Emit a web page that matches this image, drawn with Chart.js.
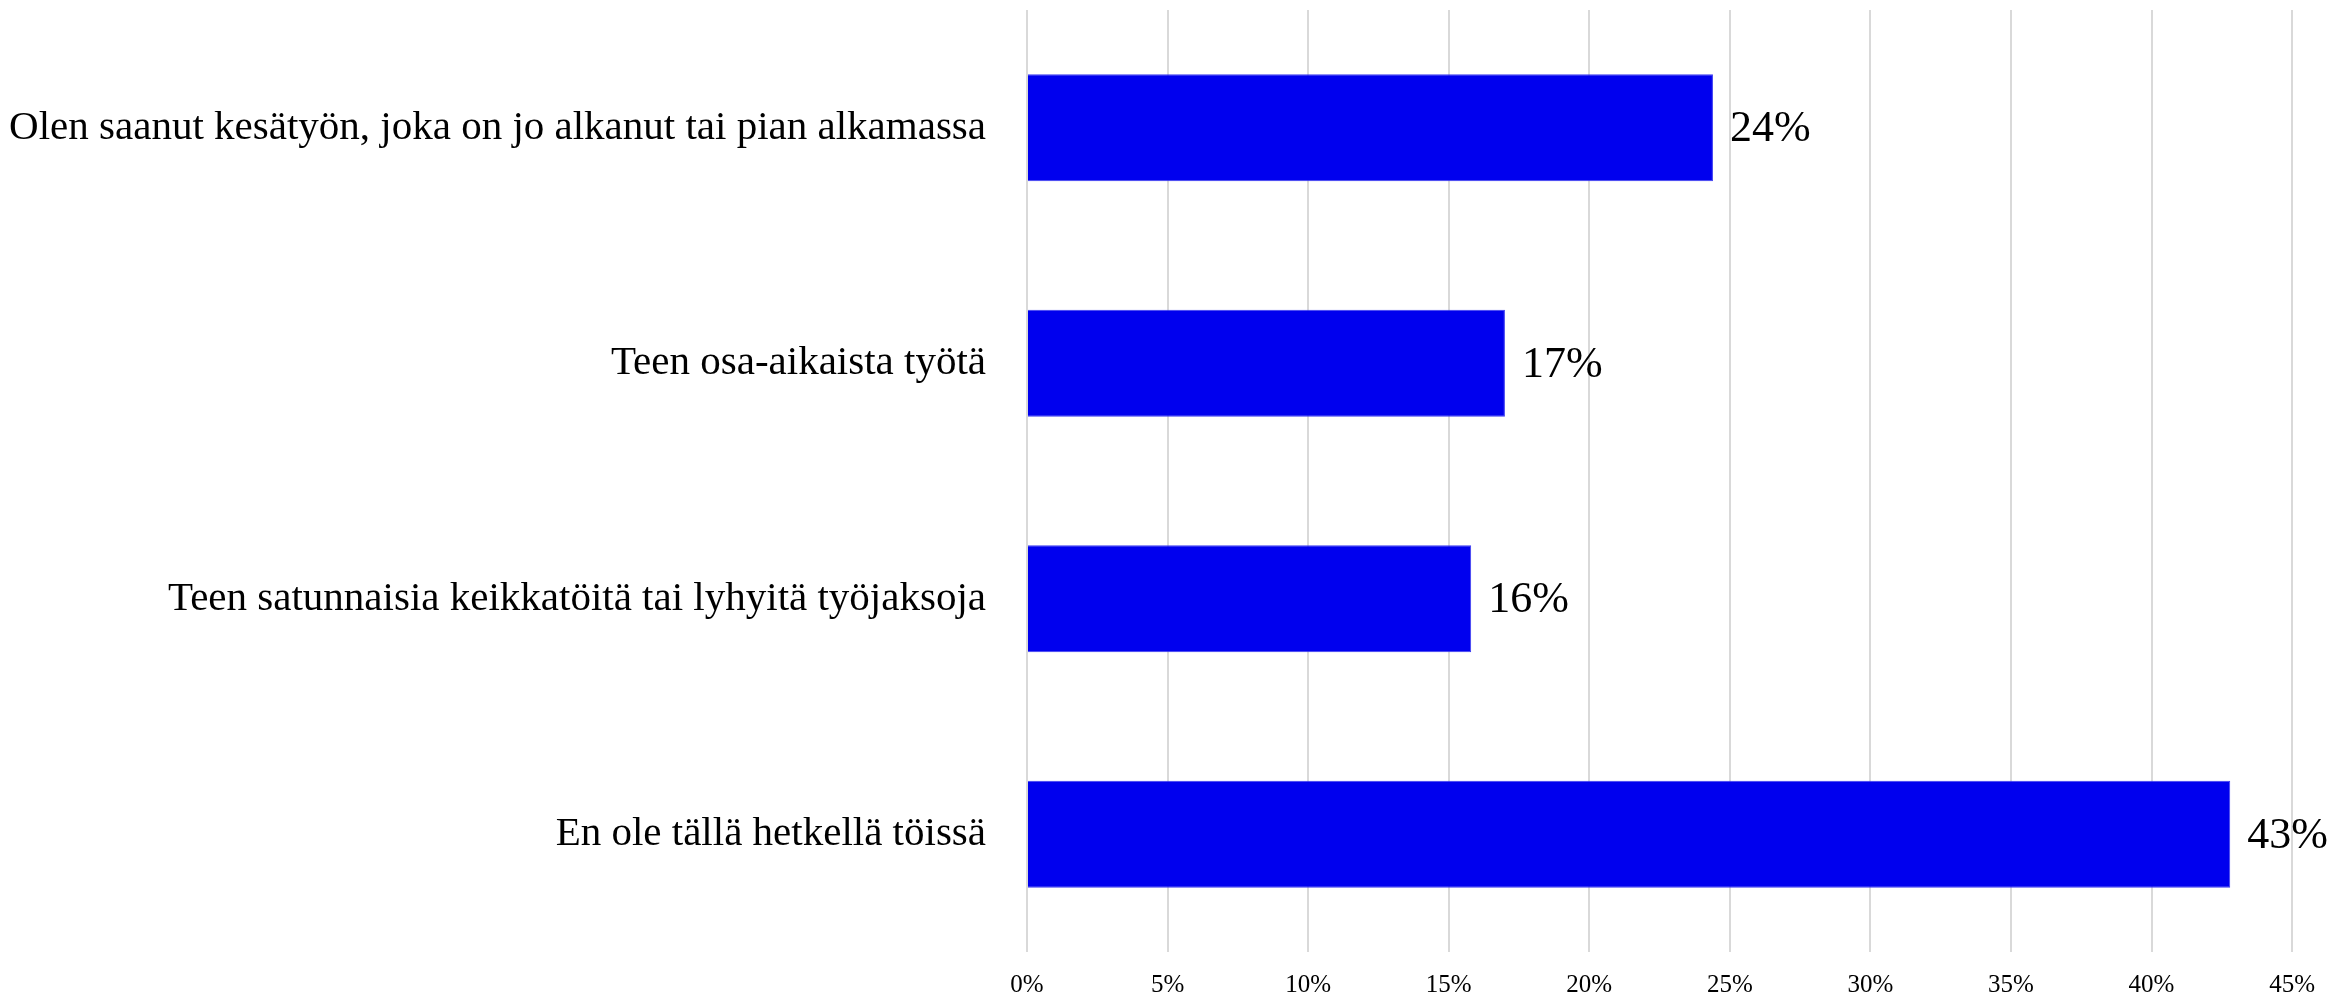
<!DOCTYPE html>
<html>
<head>
<meta charset="utf-8">
<script src="https://cdn.jsdelivr.net/npm/chart.js@4"></script>
<style>
  html, body { margin: 0; padding: 0; background: #fff; }
  #wrap { width: 2333px; height: 994px; }
</style>
</head>
<body>
<div id="wrap"><canvas id="barChart"></canvas></div>
<script>
// Chart data
const categories = [
  'Olen saanut kesätyön, joka on jo alkanut tai pian alkamassa',
  'Teen osa-aikaista työtä',
  'Teen satunnaisia keikkatöitä tai lyhyitä työjaksoja',
  'En ole tällä hetkellä töissä',
];
const shares = [24.4, 17.0, 15.8, 42.8];
const shareLabels = ['24%', '17%', '16%', '43%'];
const tickValues = [0, 5, 10, 15, 20, 25, 30, 35, 40, 45];

const FONT = '"Liberation Serif", "DejaVu Serif", serif';

// draws the value next to the end of each bar
const barLabels = {
  id: 'barLabels',
  afterDatasetsDraw(chart) {
    const { ctx } = chart;
    const meta = chart.getDatasetMeta(0);
    ctx.save();
    ctx.font = `44px ${FONT}`;
    ctx.fillStyle = '#000';
    ctx.textAlign = 'left';
    ctx.textBaseline = 'middle';
    meta.data.forEach((bar, i) => {
      ctx.fillText(shareLabels[i], bar.x + 17, bar.y + 2);
    });
    ctx.restore();
  },
};

const ctx = document.getElementById('barChart').getContext('2d');
new Chart(ctx, {
  type: 'bar',
  data: {
    labels: categories,
    datasets: [
      {
        data: shares,
        backgroundColor: '#0000ee',
        borderColor: '#3b3bf0',
        borderWidth: 1,
        barPercentage: 0.455,
        categoryPercentage: 1,
      },
    ],
  },
  options: {
    indexAxis: 'y',
    responsive: true,
    maintainAspectRatio: false,
    animation: false,
    layout: { padding: { left: 8, right: 40, top: 10, bottom: 0 } },
    plugins: {
      legend: { display: false },
      tooltip: { enabled: false },
    },
    scales: {
      x: {
        min: 0,
        max: 45,
        afterBuildTicks: (scale) => {
          scale.ticks = tickValues.map((v) => ({ value: v }));
        },
        afterFit: (scale) => {
          scale.height = 42;
        },
        grid: { color: '#d9d9d9', lineWidth: 2, drawTicks: false },
        border: { display: false },
        ticks: {
          color: '#000',
          padding: 18,
          font: { family: FONT, size: 25 },
          callback: (v) => v + '%',
        },
      },
      y: {
        afterFit: (scale) => {
          scale.width = 1019;
          // the tick padding would otherwise push the plot down
          scale.paddingTop = 0;
          scale.paddingBottom = 0;
        },
        grid: { display: false },
        border: { display: false },
        ticks: {
          color: '#000',
          padding: 33,
          font: { family: FONT, size: 41 },
        },
      },
    },
  },
  plugins: [barLabels],
});
</script>
</body>
</html>
